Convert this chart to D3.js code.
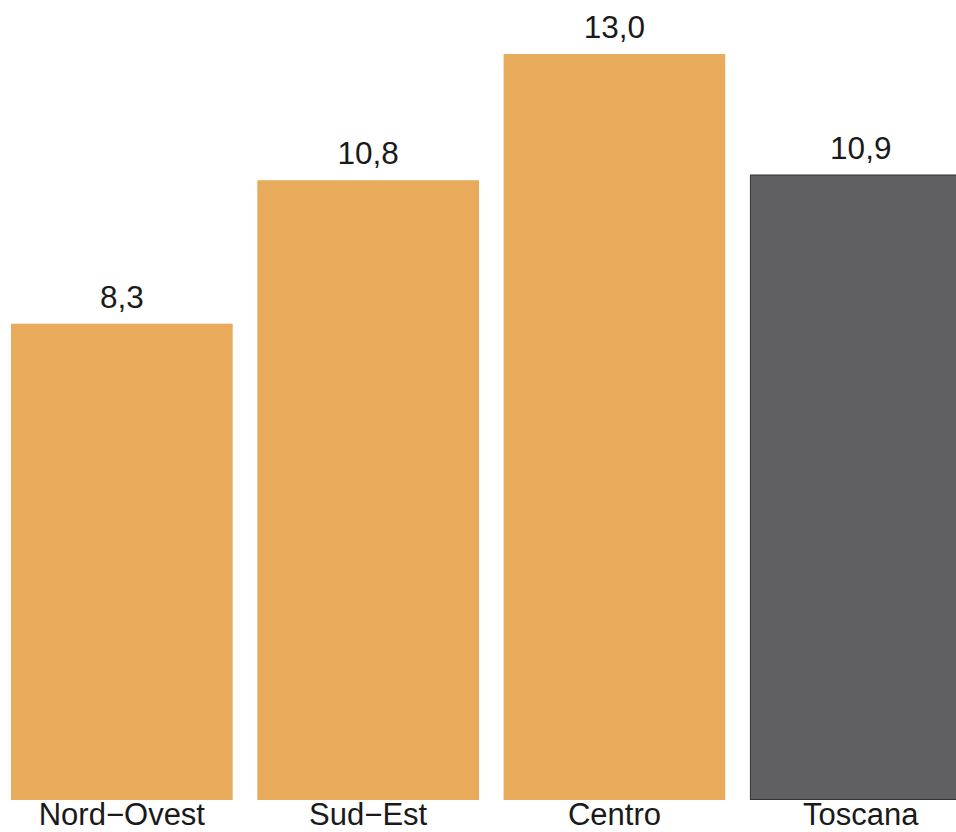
<!DOCTYPE html>
<html><head><meta charset="utf-8">
<script src="https://cdn.jsdelivr.net/npm/d3@7"></script>
<style>body{margin:0;background:#fff}svg{display:block}</style>
</head><body>
<script>
const categories = ["Nord\u2212Ovest", "Sud\u2212Est", "Centro", "Toscana"];
const values = [8.3, 10.8, 13.0, 10.9];
const valueLabels = ["8,3", "10,8", "13,0", "10,9"];
const fills = ["#E8AB5C", "#E8AB5C", "#E8AB5C", "#606062"];
const strokes = ["none", "none", "none", "#333333"];

const W = 956, H = 832;
const svg = d3.select("body").append("svg").attr("width", W).attr("height", H);

const x = d3.scaleBand().domain(categories).range([-1.3, 983.9]).paddingInner(0.1).paddingOuter(0.05);
const y = d3.scaleLinear().domain([0, 13]).range([800, 54]);

const data = categories.map((c, i) => ({c, v: values[i], l: valueLabels[i], f: fills[i], s: strokes[i]}));

svg.selectAll("rect.bar").data(data).join("rect").attr("class", "bar")
  .attr("x", d => x(d.c) + (d.s !== "none" ? 0.5 : 0))
  .attr("y", d => y(d.v) + (d.s !== "none" ? 0.5 : 0))
  .attr("width", d => x.bandwidth() - (d.s !== "none" ? 1 : 0))
  .attr("height", d => y(0) - y(d.v) - (d.s !== "none" ? 1 : 0))
  .attr("fill", d => d.f)
  .attr("stroke", d => d.s)
  .attr("stroke-width", 1);

svg.selectAll("text.val").data(data).join("text").attr("class", "val")
  .attr("x", d => x(d.c) + x.bandwidth() / 2)
  .attr("y", d => y(d.v) - 16)
  .attr("text-anchor", "middle")
  .attr("font-family", "Liberation Sans, Arial, sans-serif")
  .attr("font-size", 31.5)
  .attr("fill", "#1a1a1a")
  .text(d => d.l);

const xAxis = d3.axisBottom(x).tickSize(0).tickPadding(0);
const g = svg.append("g").attr("transform", "translate(0,800)").call(xAxis);
g.select(".domain").remove();
g.selectAll("text")
  .attr("dy", null)
  .attr("y", 25)
  .attr("font-family", "Liberation Sans, Arial, sans-serif")
  .attr("font-size", 31)
  .attr("fill", "#1a1a1a");
</script>
</body></html>
